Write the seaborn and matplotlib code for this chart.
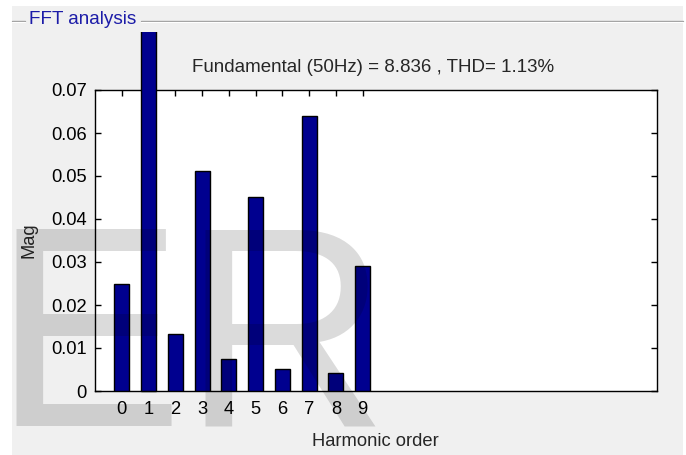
import matplotlib
matplotlib.use("Agg")
import matplotlib.pyplot as plt
from matplotlib.patches import Rectangle
from matplotlib.lines import Line2D
from matplotlib.transforms import Bbox, TransformedBbox
import seaborn as sns
import pandas as pd

# Harmonic spectrum (magnitude of each harmonic order)
harmonic_order = [0, 1, 2, 3, 4, 5, 6, 7, 8, 9]
magnitude = [0.0248, 8.836, 0.0133, 0.0512, 0.0075, 0.0452, 0.0051, 0.0640, 0.0041, 0.0291]
y_ticks = [0, 0.01, 0.02, 0.03, 0.04, 0.05, 0.06, 0.07]
y_tick_labels = ["0", "0.01", "0.02", "0.03", "0.04", "0.05", "0.06", "0.07"]
title_text = "Fundamental (50Hz) = 8.836 , THD= 1.13%"
panel_title = "FFT analysis"

sns.set_style("ticks")
plt.rcParams["font.family"] = ["Liberation Sans", "DejaVu Sans"]
plt.rcParams["font.size"] = 13.2

W, H = 686, 455
fig = plt.figure(figsize=(W / 100, H / 100), dpi=100, facecolor="white")


def fx(px):
    return px / W


def fy(py):
    return 1 - py / H


# panel background
fig.patches.append(Rectangle((fx(12), 0), fx(683) - fx(12), fy(6),
                             transform=fig.transFigure, facecolor="#f0f0f0",
                             edgecolor="none", zorder=-5))
# etched panel border line with title gap
for x0, x1 in [(12, 25), (141, 683)]:
    fig.lines.append(Line2D([fx(x0), fx(x1)], [fy(21), fy(21)], transform=fig.transFigure,
                            color="#a0a0a0", lw=1.0, zorder=-4))
    fig.lines.append(Line2D([fx(x0), fx(x1)], [fy(22), fy(22)], transform=fig.transFigure,
                            color="#ffffff", lw=0.8, zorder=-4))
fig.text(fx(29), fy(20), panel_title, color="#1c1ca8", fontsize=13.6,
         ha="left", va="center")

ax = fig.add_axes([fx(95), fy(391), fx(657) - fx(95), fy(90) - fy(391)])
ax.set_facecolor("white")

df = pd.DataFrame({"order": harmonic_order, "mag": magnitude})
sns.barplot(data=df, x="order", y="mag", color="#00008f", saturation=1,
            width=0.56, edgecolor="black", linewidth=1.0, ax=ax, zorder=3)

ax.set_xlim(-1, 20)
ax.set_ylim(0, 0.07)
ax.set_xticks(harmonic_order)
ax.set_xticklabels([str(h) for h in harmonic_order])
ax.set_yticks(y_ticks)
ax.set_yticklabels(y_tick_labels)
ax.tick_params(direction="in", length=4.5, width=1.0, top=True, right=True,
               colors="black", labelsize=13.2)
ax.tick_params(axis="y", pad=6)
ax.tick_params(axis="x", pad=7)
for s in ax.spines.values():
    s.set_visible(True)
    s.set_color("black")
    s.set_linewidth(1.0)

# the fundamental bar runs off the axes and is cut at the panel area
clip = TransformedBbox(Bbox.from_extents(0, 0, 1, fy(32)), fig.transFigure)
fund = ax.patches[1]
fund.set_clip_path(None)
fund.set_clip_box(clip)

ax.set_xlabel("Harmonic order", labelpad=6)
ax.set_ylabel("Mag", labelpad=10)
ax.xaxis.set_label_coords(0.498, -0.14)
fig.text(fx(373.5), fy(67), title_text, ha="center", va="center", fontsize=13.5)

# semi-transparent logo letters over the panel
fig.text(fx(-8), fy(426), "E", fontsize=206, color="black", alpha=0.14,
         ha="left", va="baseline", zorder=10)
fig.text(fx(181), fy(426), "R", fontsize=206, color="black", alpha=0.14,
         ha="left", va="baseline", zorder=10)

fig.savefig("out.png", dpi=100, facecolor="white")
